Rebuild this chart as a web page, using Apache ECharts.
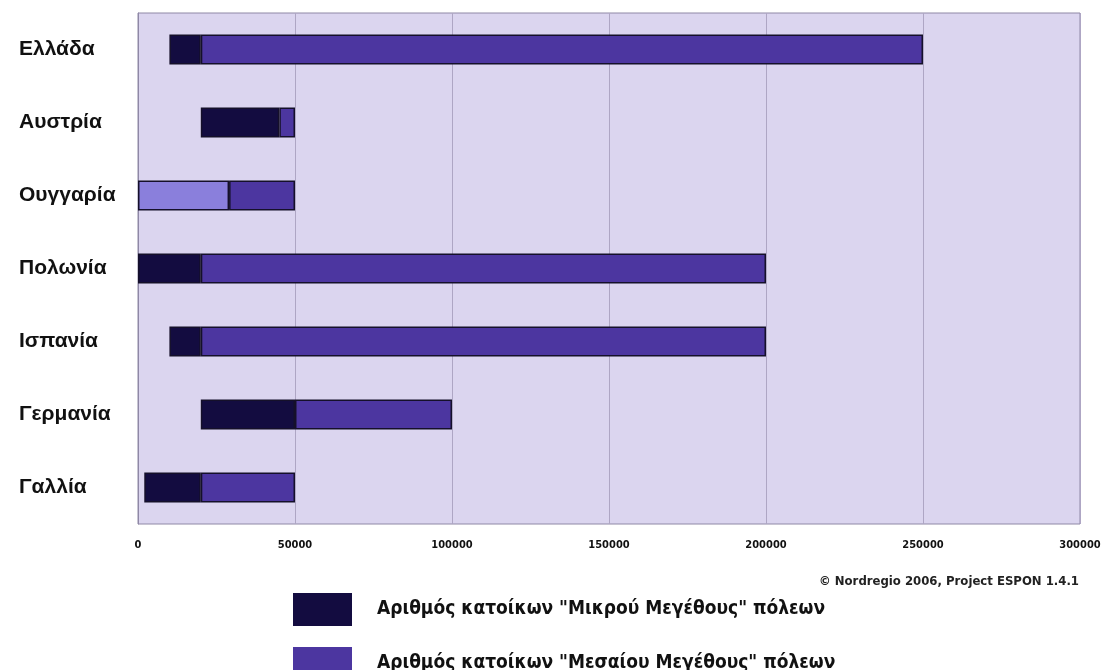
<!DOCTYPE html>
<html>
<head>
<meta charset="utf-8">
<script src="https://cdn.jsdelivr.net/npm/echarts@6/dist/echarts.min.js"></script>
<style>
  html, body { margin: 0; padding: 0; background: #fff; }
  #chart { width: 1104px; height: 670px; }
</style>
</head>
<body>
<div id="chart"></div>
<script>
// χώρες, από πάνω προς τα κάτω
const countries = ["Ελλάδα", "Αυστρία", "Ουγγαρία", "Πολωνία", "Ισπανία", "Γερμανία", "Γαλλία"];
// αρχή του μικρού τμήματος
const smallStart = [10000, 20000, 0, 0, 10000, 20000, 2000];
// τέλος "Μικρού Μεγέθους" = αρχή "Μεσαίου"
const smallEnd = [20000, 45000, 29000, 20000, 20000, 50000, 20000];
// τέλος "Μεσαίου Μεγέθους"
const mediumEnd = [250000, 50000, 50000, 200000, 200000, 100000, 50000];
const xTicks = [0, 50000, 100000, 150000, 200000, 250000, 300000];

const nameSmall = 'Αριθμός κατοίκων "Μικρού Μεγέθους" πόλεων';
const nameMedium = 'Αριθμός κατοίκων "Μεσαίου Μεγέθους" πόλεων';

const dark = "#130c40";
const mid = "#4c36a0";
const light = "#8a7fdc";
const edge = "#15102a";
const narrow = "'Liberation Sans Narrow', 'DejaVu Sans Condensed', sans-serif";

const smallVals = smallEnd.map((v, i) => {
  const val = v - smallStart[i];
  // η Ουγγαρία εμφανίζεται πιο ανοιχτή στο πρωτότυπο
  if (countries[i] === "Ουγγαρία") return { value: val, itemStyle: { color: light } };
  return val;
});
const mediumVals = mediumEnd.map((v, i) => v - smallEnd[i]);

const legendText = { fontFamily: narrow, fontWeight: "bold", fontSize: 19, color: "#111", padding: [0, 0, 0, 20] };
function legendFor(name, top) {
  return {
    data: [name], left: 293, top: top, padding: 0,
    itemWidth: 59, itemHeight: 33, icon: "rect",
    itemStyle: { borderWidth: 0 },
    selectedMode: false, textStyle: legendText
  };
}

const chart = echarts.init(document.getElementById("chart"));
chart.setOption({
  animation: false,
  grid: {
    left: 138, right: 24, top: 13, bottom: 146,
    show: true, backgroundColor: "#dbd5ef", borderColor: "#8f88a6", borderWidth: 1
  },
  legend: [legendFor(nameSmall, 593), legendFor(nameMedium, 647)],
  xAxis: {
    type: "value",
    min: 0, max: 300000, interval: 50000,
    axisLine: { show: false },
    axisTick: { show: false },
    splitLine: { show: true, lineStyle: { color: "#aea6c4", width: 1 } },
    axisLabel: {
      margin: 16,
      fontFamily: narrow, fontWeight: "bold", fontSize: 11, color: "#111",
      formatter: v => xTicks.includes(v) ? String(v) : ""
    }
  },
  yAxis: {
    type: "category",
    data: countries,
    inverse: true,
    axisLine: { show: true, lineStyle: { color: "#8f88a6" } },
    axisTick: { show: false },
    axisLabel: {
      align: "left", margin: 119,
      fontFamily: "'Liberation Sans', Arial, sans-serif", fontWeight: "bold", fontSize: 21, color: "#111"
    }
  },
  series: [
    {
      name: "base", type: "bar", stack: "s", data: smallStart,
      itemStyle: { color: "transparent" }, barWidth: 30, silent: true
    },
    {
      name: nameSmall, type: "bar", stack: "s", data: smallVals, barWidth: 30,
      itemStyle: { color: dark, borderColor: edge, borderWidth: 1.5 }
    },
    {
      name: nameMedium, type: "bar", stack: "s", data: mediumVals, barWidth: 30,
      itemStyle: { color: mid, borderColor: edge, borderWidth: 1.5 }
    }
  ],
  graphic: [{
    type: "text", right: 25, top: 575,
    style: { text: "© Nordregio 2006, Project ESPON 1.4.1", font: "bold 13px " + narrow, fill: "#222" }
  }]
});
</script>
</body>
</html>
